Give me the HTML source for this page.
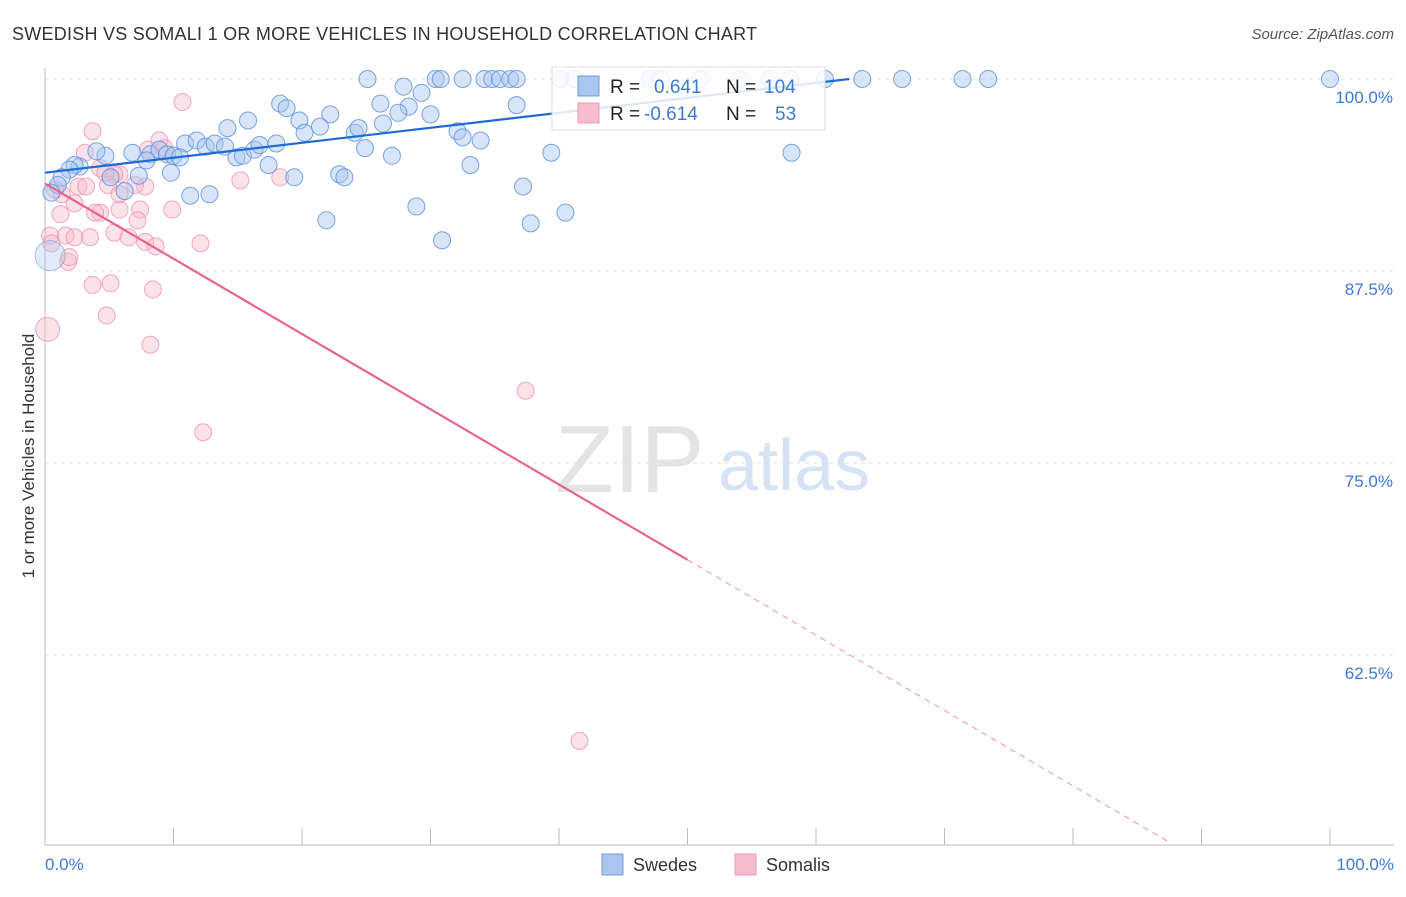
<!DOCTYPE html>
<html><head><meta charset="utf-8"><style>
body{margin:0;background:#fff;font-family:"Liberation Sans",sans-serif;}
svg text{font-family:"Liberation Sans",sans-serif;}
</style></head><body>
<svg id="chart" width="1406" height="892" viewBox="0 0 1406 892" xmlns="http://www.w3.org/2000/svg">
<text x="12" y="40" font-size="18" fill="#333" textLength="745">SWEDISH VS SOMALI 1 OR MORE VEHICLES IN HOUSEHOLD CORRELATION CHART</text>
<text x="1394" y="39" font-size="15" fill="#555" text-anchor="end" font-style="italic">Source: ZipAtlas.com</text>
<g>
<text x="555" y="492" font-size="96" fill="#e4e4e4" font-family="Liberation Serif, serif">ZIP</text>
<text x="718" y="490" font-size="72" fill="#d6e3f5">atlas</text>
</g>
<g id="grid"></g>
<g id="ylabels"></g>
<line x1="45" y1="68" x2="45" y2="845" stroke="#bbb" stroke-width="1"/>
<line x1="45" y1="845" x2="1394" y2="845" stroke="#bbb" stroke-width="1"/>
<g id="xticks"></g>
<text x="45" y="870" font-size="17" fill="#3d7ad6">0.0%</text>
<text x="1394" y="870" font-size="17" fill="#3d7ad6" text-anchor="end">100.0%</text>
<text transform="translate(34,456) rotate(-90)" font-size="17" fill="#333" text-anchor="middle">1 or more Vehicles in Household</text>
<g id="pinkpts"></g>
<g id="bluepts"></g>
<g id="trends"></g>
<g>
<rect x="552" y="67" width="273" height="63" fill="#fff" fill-opacity="0.85" stroke="#ddd"/>
<rect x="578" y="76" width="21" height="20" fill="#a9c6ef" stroke="#6f9de0"/>
<rect x="578" y="103" width="21" height="20" fill="#f7bccd" stroke="#ee9ab4"/>
<text x="610" y="93" font-size="19" fill="#222">R =</text>
<text x="654" y="93" font-size="19" fill="#3d7ad6">0.641</text>
<text x="726" y="93" font-size="19" fill="#222">N =</text>
<text x="764" y="93" font-size="19" fill="#3d7ad6">104</text>
<text x="610" y="120" font-size="19" fill="#222">R =</text>
<text x="644" y="120" font-size="19" fill="#3d7ad6">-0.614</text>
<text x="726" y="120" font-size="19" fill="#222">N =</text>
<text x="775" y="120" font-size="19" fill="#3d7ad6">53</text>
</g>
<g>
<rect x="602" y="854" width="21" height="21" fill="#a9c6ef" stroke="#6f9de0"/>
<text x="633" y="871" font-size="18" fill="#333">Swedes</text>
</g>
<g>
<rect x="735" y="854" width="21" height="21" fill="#f7bccd" stroke="#ee9ab4"/>
<text x="766" y="871" font-size="18" fill="#333">Somalis</text>
</g>
</svg>
<script>
const yTicks=[100,87.5,75,62.5];
const yTickLabels=["100.0%","87.5%","75.0%","62.5%"];
const xTicks=[0,10,20,30,40,50,60,70,80,90,100];
const blueX=[25.1,27.9,30.4,30.8,32.5,34.2,34.8,35.4,36.2,36.7,40.1,41.2,47.1,47.9,51.0,54.1,56.4,58.0,60.7,63.6,66.7,71.4,73.4,100,18.3,18.8,26.1,28.3,29.3,36.7,22.2,19.8,15.8,14.2,20.2,21.4,24.1,24.4,26.3,27.5,30.0,32.1,32.5,33.9,24.9,27.0,33.1,39.4,58.1,6.8,8.2,8.9,9.5,10.0,10.9,11.8,12.5,13.2,14.0,14.9,15.4,16.3,16.7,18.0,17.4,19.4,22.9,23.3,10.5,9.8,7.9,7.3,6.2,4.7,4.0,2.7,2.3,1.9,1.3,1.0,0.5,5.1,11.3,12.8,21.9,28.9,30.9,37.2,37.8,40.5,0.4];
const blueY=[100,99.5,100,100,100,100,100,100,100,100,100,100,100,100,100,100,100,100,100,100,100,100,100,100,98.4,98.1,98.4,98.2,99.1,98.3,97.7,97.3,97.3,96.8,96.5,96.9,96.5,96.8,97.1,97.8,97.7,96.6,96.2,96.0,95.5,95.0,94.4,95.2,95.2,95.2,95.1,95.4,95.1,95.0,95.8,96.0,95.6,95.8,95.6,94.9,95.0,95.4,95.7,95.8,94.4,93.6,93.8,93.6,94.9,93.9,94.7,93.7,92.7,95.0,95.3,94.3,94.4,94.1,93.6,93.1,92.6,93.6,92.4,92.5,90.8,91.7,89.5,93.0,90.6,91.3,88.5];
const pinkX=[10.7,3.7,8.9,9.3,8.0,5.8,4.3,3.1,5.4,7.8,4.9,2.6,3.2,1.3,1.2,2.3,4.3,5.8,7.4,7.2,9.9,15.2,18.3,7.0,3.9,1.6,0.4,0.5,2.3,3.5,5.4,6.5,7.8,8.6,12.1,1.8,1.9,3.7,5.1,8.4,4.8,8.2,0.2,37.4,12.3,41.6,4.7,5.8,0.8];
const pinkY=[98.5,96.6,96.0,95.5,95.4,93.8,94.2,95.2,93.8,93.0,93.1,93.0,93.0,92.5,91.2,91.9,91.3,91.5,91.5,90.8,91.5,93.4,93.6,93.1,91.3,89.8,89.8,89.3,89.7,89.7,90.0,89.7,89.4,89.1,89.3,88.1,88.4,86.6,86.7,86.3,84.6,82.7,83.7,79.7,77.0,56.9,93.9,92.5,92.8];
const blueTrend=[0,93.9,62.6,100];
const pinkTrend=[0,93.2,50,68.7,87.5,50.3];
const NS="http://www.w3.org/2000/svg";
const X=v=>45+v*12.85;
const Y=v=>79+(100-v)*15.36;
function mk(tag,attrs,parent){const e=document.createElementNS(NS,tag);for(const k in attrs)e.setAttribute(k,attrs[k]);parent.appendChild(e);return e;}
const grid=document.getElementById('grid'),yl=document.getElementById('ylabels');
yTicks.forEach((t,i)=>{
 const l=mk('line',{x1:45,x2:1394,y1:Y(t),y2:Y(t),stroke:'#e2e2e2','stroke-dasharray':'4,4'},grid);
 
 
 const tx=mk('text',{x:1393,y:Y(t)+24,'font-size':17,fill:'#3d7ad6','text-anchor':'end'},yl);
 tx.textContent=yTickLabels[i];
 
 
});
const xt=document.getElementById('xticks');
xTicks.forEach(t=>{
 const l=mk('line',{x1:X(t),x2:X(t),y1:828,y2:845,stroke:'#bbb'},xt);
 
 
});
const pp=document.getElementById('pinkpts');
pinkX.forEach((v,i)=>{
 const big=(i===42);
 const c=mk('circle',{cx:X(v),cy:Y(pinkY[i]),r:big?12:8.5,fill:'#f7bccd','fill-opacity':0.45,stroke:'#ee94b0','stroke-opacity':0.8,'stroke-width':1},pp);
 
 
});
const bp=document.getElementById('bluepts');
blueX.forEach((v,i)=>{
 const big=(i===blueX.length-1);
 const c=mk('circle',{cx:X(v),cy:Y(blueY[i]),r:big?15:8.5,fill:'#a9c6ef','fill-opacity':big?0.35:0.45,stroke:'#5b8fdb','stroke-opacity':big?0.5:0.8,'stroke-width':1},bp);
 
 
});
const tr=document.getElementById('trends');
const b=mk('line',{x1:X(blueTrend[0]),y1:Y(blueTrend[1]),x2:X(blueTrend[2]),y2:Y(blueTrend[3]),stroke:'#1f6ad6','stroke-width':2.2},tr);


const p=mk('line',{x1:X(pinkTrend[0]),y1:Y(pinkTrend[1]),x2:X(pinkTrend[2]),y2:Y(pinkTrend[3]),stroke:'#e8648f','stroke-width':2.2},tr);


const pd=mk('line',{x1:X(pinkTrend[2]),y1:Y(pinkTrend[3]),x2:X(pinkTrend[4]),y2:Y(pinkTrend[5]),stroke:'#e8648f','stroke-width':1,'stroke-dasharray':'6,5','stroke-opacity':0.7},tr);


</script>
</body></html>
